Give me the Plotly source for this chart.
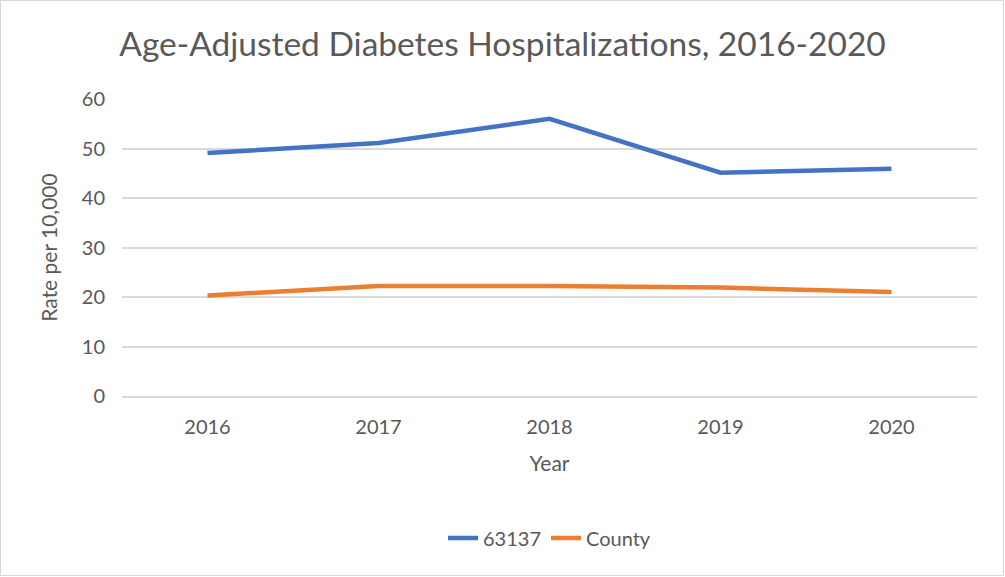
import plotly.graph_objects as go

years = ["2016", "2017", "2018", "2019", "2020"]
zip_63137 = [49.1, 51.1, 56.0, 45.1, 45.9]
county = [20.3, 22.2, 22.2, 21.9, 21.0]
y_ticks = [0, 10, 20, 30, 40, 50, 60]

W, H = 1005, 577
L, R, T, B = 122, 28, 99, 181
pw, ph = W - L - R, H - T - B

font = "Lato, Open Sans, sans-serif"
grey = "#595959"

fig = go.Figure()
fig.add_trace(go.Scatter(x=years, y=zip_63137, mode="lines", name="63137",
                         line=dict(color="#4472C4", width=4.5)))
fig.add_trace(go.Scatter(x=years, y=county, mode="lines", name="County",
                         line=dict(color="#ED7D31", width=4.5)))

fig.update_layout(
    width=W, height=H,
    margin=dict(l=L, r=R, t=T, b=B),
    paper_bgcolor="white", plot_bgcolor="white",
    font=dict(family=font, color=grey),
    title=dict(text="Age-Adjusted Diabetes Hospitalizations, 2016-2020",
               x=0.5, xanchor="center", y=1 - 44 / H, yanchor="middle",
               font=dict(size=33.5, color=grey, family=font)),
    showlegend=True,
    legend=dict(orientation="h", x=0.5, xanchor="center", y=-(538 - 396) / ph,
                yanchor="middle", font=dict(size=20, color=grey)),
    xaxis=dict(type="category", showgrid=False, showline=True,
               linecolor="#d9d9d9", linewidth=1.5, ticks="",
               ticklabelstandoff=12,
               tickfont=dict(size=20, color=grey),
               title=dict(text="Year", font=dict(size=21, color=grey), standoff=20),
               range=[-0.5, 4.5]),
    yaxis=dict(range=[0, 60], tickvals=y_ticks, showgrid=True,
               gridcolor="#d9d9d9", gridwidth=1.5, zeroline=False,
               showline=False, ticks="", ticklabelstandoff=16,
               tickfont=dict(size=20, color=grey),
               title=dict(text="Rate per 10,000", font=dict(size=21, color=grey), standoff=18)),
    shapes=[dict(type="rect", xref="paper", yref="paper",
                 x0=-(L - 0.5) / pw, x1=1 + (R - 1.5) / pw,
                 y0=-(B - 1.5) / ph, y1=1 + (T - 0.5) / ph,
                 line=dict(color="#d9d9d9", width=1), fillcolor="rgba(0,0,0,0)",
                 layer="below")],
)

fig.write_html("out.html", config={"displayModeBar": False},
               post_script="document.body.style.margin='0';document.body.style.padding='0';")
